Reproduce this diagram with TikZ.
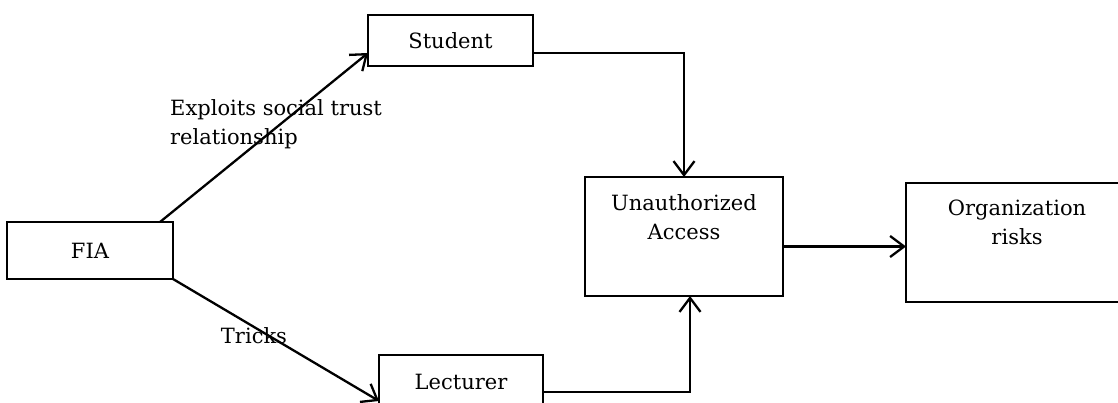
\documentclass[tikz,border=0pt]{standalone}
\usepackage{fontspec}
\setmainfont{DejaVu Serif}
\usepackage{tikz}
\usetikzlibrary{arrows.meta,positioning,calc}

\begin{document}
\begin{tikzpicture}[x=1pt,y=-1pt,
    box/.style={draw,line width=2pt,inner sep=0pt,outer sep=0pt,align=center},
    toplbl/.style={anchor=north,inner sep=0pt,yshift=-17pt,align=center},
    flow/.style={line width=2.3pt,-{Straight Barb[length=14pt,width=21pt]}},
    every node/.style={font=\fontsize{21}{29}\selectfont}]
  \useasboundingbox (0,0) rectangle (1118,403);
  \clip (0,0) rectangle (1118,403);
  % boxes
  \node[box,minimum width=166pt,minimum height=57pt] (fia) at (90,250.5) {FIA};
  \node[box,minimum width=165pt,minimum height=51pt] (student) at (450.5,40.5) {Student};
  \node[box,minimum width=164pt,minimum height=54pt] (lecturer) at (461,382) {Lecturer};
  \node[box,minimum width=198pt,minimum height=119pt,
    label={[toplbl,name=unauthtxt]north:Unauthorized\\Access}] (unauth) at (684,236.5) {};
  \node[box,minimum width=222pt,minimum height=119pt,
    label={[toplbl,name=orgtxt]north:Organization\\risks}] (org) at (1017,242.5) {};
  % edge texts
  \node[anchor=north west,inner sep=0pt,align=left] (trust) at (170,99) {Exploits social trust\\relationship};
  \node[inner sep=0pt] (tricks) at (254,336) {Tricks};
  % connectors
  \draw[flow] ($(fia.north east)+(-13,0)$) -- ($(student.south west)+(0,-13)$);
  \draw[flow] (fia.south east) -- ($(lecturer.north west)+(0,46)$);
  \draw[flow] ($(student.south east)+(0,-13)$) -| (unauth.north);
  \draw[flow] ($(lecturer.east)+(0,10)$) -| ($(unauth.south)+(6,0)$);
  \draw[flow] ($(unauth.east)+(0,10)$) coordinate (uo) -- (uo -| org.west);
\end{tikzpicture}
\end{document}
